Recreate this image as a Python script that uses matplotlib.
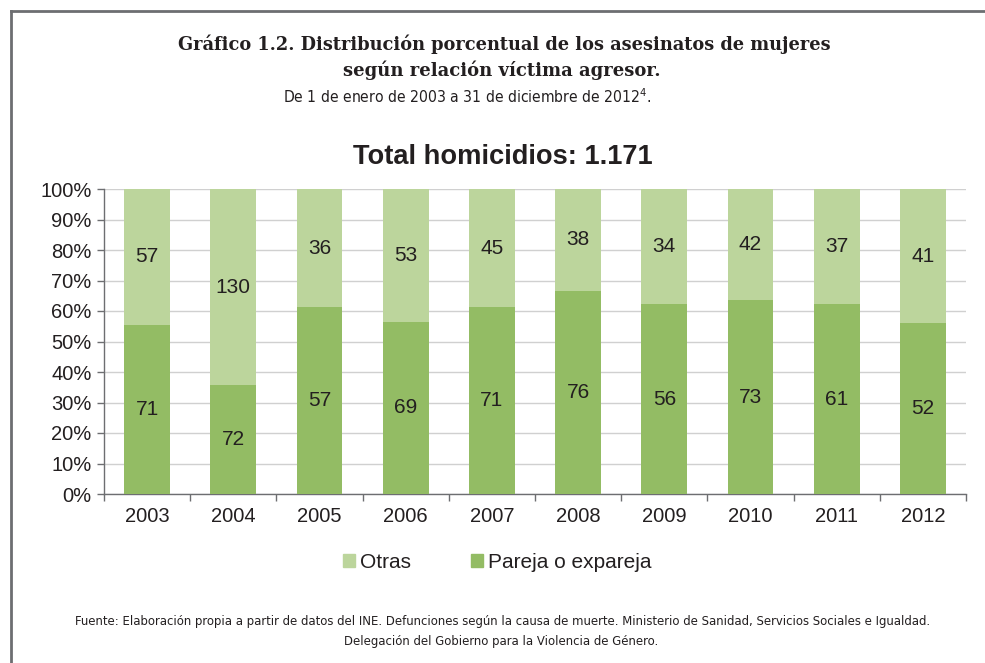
import matplotlib
matplotlib.use("Agg")
import matplotlib.pyplot as plt
import numpy as np
from matplotlib.lines import Line2D
from matplotlib.patches import Patch

years = ["2003", "2004", "2005", "2006", "2007", "2008", "2009", "2010", "2011", "2012"]
pareja = [71, 72, 57, 69, 71, 76, 56, 73, 61, 52]
otras = [57, 130, 36, 53, 45, 38, 34, 42, 37, 41]
yticks = [0, 10, 20, 30, 40, 50, 60, 70, 80, 90, 100]

c_dark = "#93BC64"
c_light = "#BCD59C"
txt = "#231F20"

plt.rcParams['font.family'] = ['Liberation Sans', 'DejaVu Sans']

W, H = 985, 663
fig = plt.figure(figsize=(W/100, H/100), dpi=100)
renderer = fig.canvas.get_renderer()


def fit_text(x0, x1, y, s, size0=12, **kw):
    """Place text centred on (x0+x1)/2 at pixel row y, scaled to span x0..x1 pixels."""
    t = fig.text((x0 + x1) / 2 / W, 1 - y / H, s, ha='center', va='center', fontsize=size0, **kw)
    bb = t.get_window_extent(renderer=renderer)
    t.set_fontsize(size0 * (x1 - x0) / bb.width)
    return t


ax = fig.add_axes([104/W, 1-494/H, (966-104)/W, (494-189)/H])

p = np.array(pareja, float)
o = np.array(otras, float)
tot = p + o
pp = p / tot * 100
op = o / tot * 100
x = np.arange(len(years))
w = 0.53
ax.bar(x, pp, w, color=c_dark, zorder=3)
ax.bar(x, op, w, bottom=pp, color=c_light, zorder=3)
for i in range(len(years)):
    ax.text(x[i], pp[i]/2, str(pareja[i]), ha='center', va='center', fontsize=15, color=txt, zorder=4)
    ax.text(x[i], pp[i] + op[i]/2, str(otras[i]), ha='center', va='center', fontsize=15, color=txt, zorder=4)

ax.set_xlim(-0.5, len(years)-0.5)
ax.set_ylim(0, 100)
ax.set_yticks(yticks)
ax.set_yticklabels([f"{v}%" for v in yticks], fontsize=14.5, color=txt)
ax.set_xticks(np.arange(len(years)+1) - 0.5, minor=False)
ax.set_xticklabels([])
ax.set_xticks(x, minor=True)
ax.set_xticklabels(years, minor=True, fontsize=14.5, color=txt)
ax.tick_params(axis='x', which='minor', length=0, pad=9)
ax.tick_params(axis='x', which='major', length=5, direction='out', color='#6D6E71', width=1)
ax.tick_params(axis='y', length=5, direction='out', color='#6D6E71', width=1, pad=4)
ax.grid(axis='y', color='#D0D0D0', linewidth=1, zorder=0)
for s in ['top', 'right']:
    ax.spines[s].set_visible(False)
for s in ['left', 'bottom']:
    ax.spines[s].set_color('#6D6E71')
    ax.spines[s].set_linewidth(1)

fit_text(353, 652, 157, "Total homicidios: 1.171", size0=19, fontweight='bold', color=txt)

handles = [Patch(color=c_light), Patch(color=c_dark)]
fig.legend(handles, ["Otras", "Pareja o expareja"], loc='center', bbox_to_anchor=(497/W, 1-562/H),
           ncol=2, frameon=False, fontsize=15, handlelength=0.6, handleheight=0.6, handletextpad=0.2,
           columnspacing=2.9, labelcolor=txt)

serif = ['DejaVu Serif']
fit_text(178, 830, 44, "Gráfico 1.2. Distribución porcentual de los asesinatos de mujeres",
         size0=14, fontweight='bold', family=serif, color=txt)
fit_text(343, 660, 70, "según relación víctima agresor.",
         size0=14, fontweight='bold', family=serif, color=txt)
cond = dict(family=['DejaVu Sans'], fontstretch='condensed')
fit_text(283, 652, 97, r"De 1 de enero de 2003 a 31 de diciembre de 2012$^{\mathregular{4}}$.",
         size0=12.5, color=txt, **cond)
fit_text(75, 930, 621, "Fuente: Elaboración propia a partir de datos del INE. Defunciones según la causa de muerte. Ministerio de Sanidad, Servicios Sociales e Igualdad.",
         size0=9, color=txt, **cond)
fit_text(344, 658, 641, "Delegación del Gobierno para la Violencia de Género.",
         size0=9, color=txt, **cond)

fig.add_artist(Line2D([10.5/W, 1], [1-10.5/H, 1-10.5/H], color='#6D6E71', linewidth=2, transform=fig.transFigure))
fig.add_artist(Line2D([10.5/W, 10.5/W], [0, 1-10.5/H], color='#6D6E71', linewidth=2, transform=fig.transFigure))

fig.savefig("out.png", dpi=100)
